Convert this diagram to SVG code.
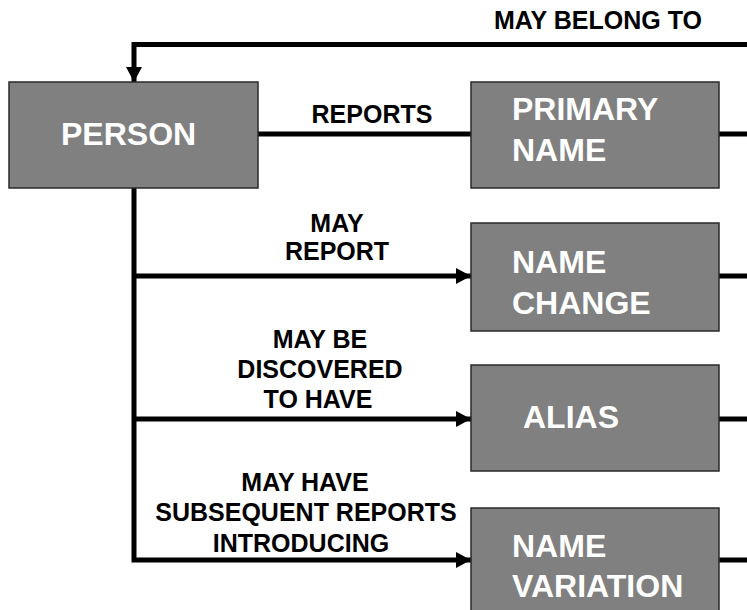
<svg xmlns="http://www.w3.org/2000/svg" width="747" height="610" viewBox="0 0 747 610">
<style>
.box{fill:#808080;stroke:#2a2a2a;stroke-width:1.5}
.bt{font-family:"Liberation Sans",Arial,sans-serif;font-weight:bold;font-size:32px;fill:#ffffff}
.lb{font-family:"Liberation Sans",Arial,sans-serif;font-weight:bold;font-size:25px;fill:#000000;text-anchor:middle}
.ln{fill:none;stroke:#000000;stroke-width:5}
</style>
<defs>
<marker id="ah" markerUnits="userSpaceOnUse" markerWidth="16" markerHeight="16" refX="15" refY="8" orient="auto" viewBox="0 0 16 16">
<path d="M0,0 L15,8 L0,16 Z" fill="#000000"/>
</marker>
</defs>
<rect width="747" height="610" fill="#ffffff"/>
<g id="connectors">
<path class="ln" d="M747,44.5 H134 V82" marker-end="url(#ah)"/>
<path class="ln" d="M258,134 H471"/>
<path class="ln" d="M134,188 V560 H471" marker-end="url(#ah)"/>
<path class="ln" d="M134,276 H471" marker-end="url(#ah)"/>
<path class="ln" d="M134,419 H471" marker-end="url(#ah)"/>
<path class="ln" d="M719,134 H747"/>
<path class="ln" d="M719,276 H747"/>
<path class="ln" d="M719,419 H747"/>
<path class="ln" d="M719,560 H747"/>
<text class="lb" x="598" y="29">MAY BELONG TO</text>
<text class="lb" x="372" y="123">REPORTS</text>
<text class="lb" x="337" y="232">MAY</text>
<text class="lb" x="337" y="260">REPORT</text>
<text class="lb" x="320" y="348">MAY BE</text>
<text class="lb" x="320" y="378">DISCOVERED</text>
<text class="lb" x="318" y="408">TO HAVE</text>
<text class="lb" x="305" y="491">MAY HAVE</text>
<text class="lb" x="306" y="521">SUBSEQUENT REPORTS</text>
<text class="lb" x="301" y="552">INTRODUCING</text>
</g>
<g id="person">
<rect class="box" x="9" y="82" width="249" height="106"/>
<text class="bt" x="61" y="145">PERSON</text>
</g>
<g id="primary-name">
<rect class="box" x="471" y="82" width="248" height="106"/>
<text class="bt" x="512" y="120">PRIMARY</text>
<text class="bt" x="512" y="161">NAME</text>
</g>
<g id="name-change">
<rect class="box" x="471" y="223" width="248" height="108"/>
<text class="bt" x="512" y="273">NAME</text>
<text class="bt" x="512" y="314">CHANGE</text>
</g>
<g id="alias">
<rect class="box" x="471" y="365" width="248" height="106"/>
<text class="bt" x="523" y="428">ALIAS</text>
</g>
<g id="name-variation">
<rect class="box" x="471" y="508" width="248" height="112"/>
<text class="bt" x="512" y="557">NAME</text>
<text class="bt" x="512" y="597">VARIATION</text>
</g>
</svg>
